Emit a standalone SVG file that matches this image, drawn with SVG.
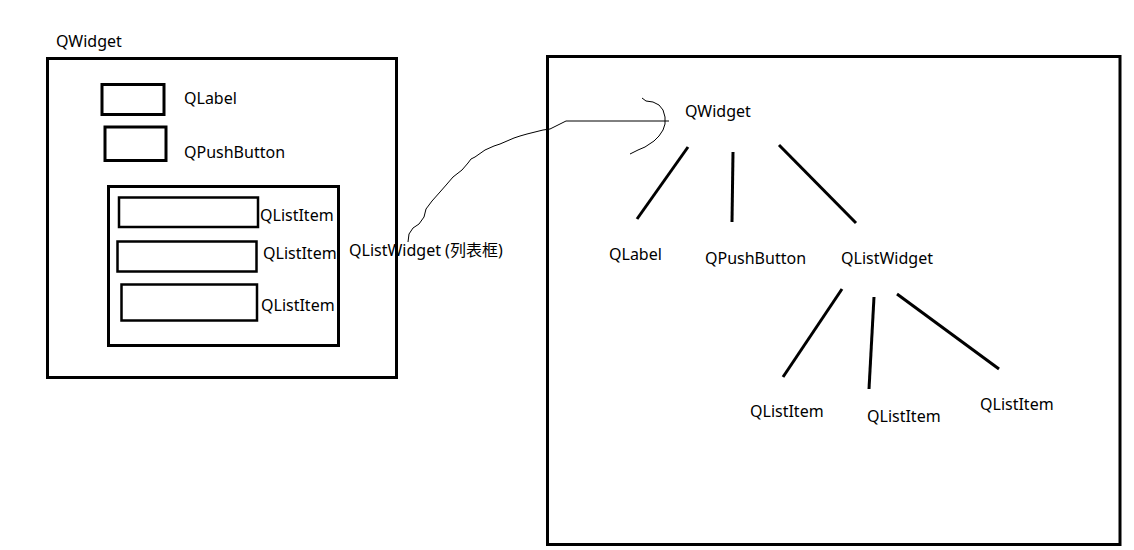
<svg xmlns="http://www.w3.org/2000/svg" width="1134" height="550" viewBox="0 0 1134 550">
<style>
.box{fill:none;stroke:#000;stroke-width:3}
.item{fill:none;stroke:#000;stroke-width:2.5}
.t{font-family:"Noto Sans","Noto Sans CJK SC",sans-serif;font-size:16px;fill:#000}
.edge{stroke:#000;stroke-width:3;fill:none;stroke-linecap:butt}
.hand{stroke:#000;stroke-width:1;fill:none;stroke-linejoin:round}
</style>
<rect width="1134" height="550" fill="#fff"/>
<g id="left-widget">
<text class="t" x="56" y="47">QWidget</text>
<rect class="box" x="47.5" y="58.5" width="349" height="319"/>
</g>
<g id="left-label">
<rect class="box" x="102" y="84.5" width="62" height="30"/>
<text class="t" x="184" y="104">QLabel</text>
</g>
<g id="left-pushbutton">
<rect class="box" x="105" y="127" width="61" height="33.5"/>
<text class="t" x="184" y="158">QPushButton</text>
</g>
<g id="left-listwidget">
<rect class="box" x="108.5" y="186.5" width="230" height="159"/>
</g>
<g id="left-item1">
<rect class="item" x="119" y="197.5" width="139" height="29.5"/>
<text class="t" x="260" y="221">QListItem</text>
</g>
<g id="left-item2">
<rect class="item" x="117.5" y="241.5" width="139" height="30"/>
<text class="t" x="263" y="259">QListItem</text>
</g>
<g id="left-item3">
<rect class="item" x="121.5" y="284.5" width="135.5" height="36"/>
<text class="t" x="261" y="311">QListItem</text>
</g>
<g id="listwidget-caption">
<text class="t" x="349" y="256">QListWidget (列表框)</text>
</g>
<g id="right-frame">
<rect class="box" x="547.5" y="56.5" width="572.5" height="488"/>
</g>
<g id="tree-qwidget"><text class="t" x="685" y="117">QWidget</text></g>
<g id="tree-qlabel"><text class="t" x="609" y="260">QLabel</text></g>
<g id="tree-qpushbutton"><text class="t" x="705" y="264">QPushButton</text></g>
<g id="tree-qlistwidget"><text class="t" x="841" y="264">QListWidget</text></g>
<g id="tree-item1"><text class="t" x="750" y="417">QListItem</text></g>
<g id="tree-item2"><text class="t" x="867" y="422">QListItem</text></g>
<g id="tree-item3"><text class="t" x="980" y="410">QListItem</text></g>
<g id="connectors">
<path class="hand" d="M408,242 L409,234 L413,228 L419,224 L424,217 L426,209 L432,201 L440,192 L447,184 L453,177 L462,170 L468,163 L471,159 L475,157 L485,150 L494,146 L500,144 L507,141 L514,138 L520,136 L527,134 L535,132 L543,130 L550,129 L556,126 L562,123 L566,121 L575,121 L669,121"/>
<path class="hand" d="M642,98 L646,101 L653,102 L659,105 L663,110 L665,117 L665,124 L663,130 L659,136 L654,141 L648,145 L645,147 L638,150 L630,154"/>
<line class="edge" x1="688" y1="147" x2="637" y2="219"/>
<line class="edge" x1="733" y1="152" x2="732" y2="222"/>
<line class="edge" x1="779" y1="145" x2="856" y2="223"/>
<line class="edge" x1="842" y1="289" x2="783" y2="377"/>
<line class="edge" x1="874" y1="297" x2="869" y2="389"/>
<line class="edge" x1="897" y1="294" x2="999" y2="369"/>
</g>
</svg>
